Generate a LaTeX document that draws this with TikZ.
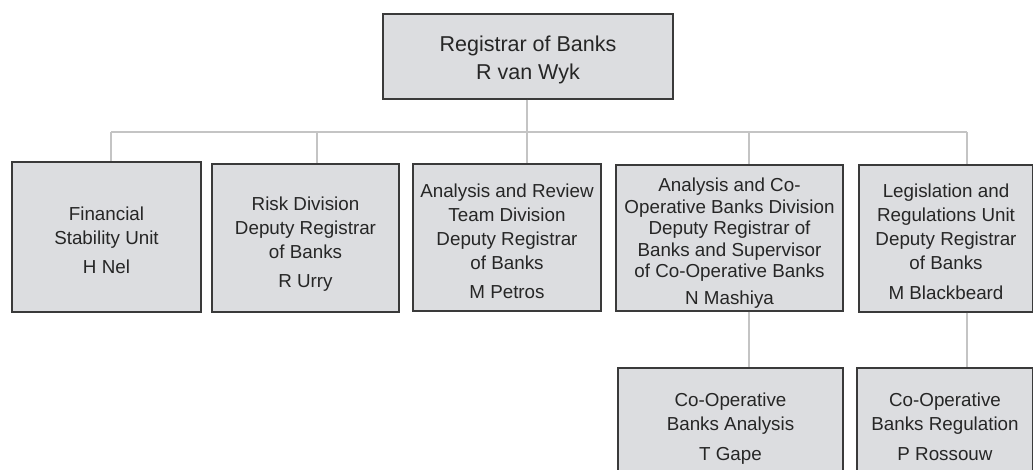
\documentclass[tikz,border=0pt]{standalone}
\usepackage{fontspec}
\setmainfont{Liberation Sans}
\definecolor{boxfill}{HTML}{DCDDE0}
\definecolor{boxline}{HTML}{3A3A3A}
\definecolor{conn}{HTML}{C4C4C4}
\definecolor{txt}{HTML}{262626}
\begin{document}
\begin{tikzpicture}[x=1pt,y=-1pt,
  unitbox/.style={draw=boxline, line width=1.2pt, fill=boxfill, inner sep=0pt},
  unittext/.style={inner sep=0pt, align=center, text=txt, font=\fontsize{18.8}{24}\selectfont},
  link/.style={draw=conn, line width=1.1pt}]
\useasboundingbox (0,0) rectangle (1033,470);
\clip (0,0) rectangle (1033,470);
% boxes
\node[unitbox, minimum width=290pt, minimum height=85pt] (top) at (528,56.5) {};
\node[unitbox, minimum width=189pt, minimum height=150pt] (b1) at (106.5,237) {};
\node[unitbox, minimum width=187pt, minimum height=148pt] (b2) at (305.5,238) {};
\node[unitbox, minimum width=188pt, minimum height=147pt] (b3) at (507,237.5) {};
\node[unitbox, minimum width=227pt, minimum height=146pt] (b4) at (729.5,238) {};
\node[unitbox, minimum width=174pt, minimum height=147pt] (b5) at (946,238.5) {};
\node[unitbox, minimum width=225pt, minimum height=116pt] (c1) at (730.5,426) {};
\node[unitbox, minimum width=176pt, minimum height=116pt] (c2) at (945,426) {};
% texts
\node[unittext, font=\fontsize{21.5}{28}\selectfont] (topt) at ([yshift=-3pt]top.center)
  {Registrar of Banks\\R van Wyk};
\node[unittext] (b1t) at ([yshift=-3pt]b1.center)
  {Financial\\Stability Unit\\[5pt]H Nel};
\node[unittext] (b2t) at ([yshift=-6pt]b2.center)
  {Risk Division\\Deputy Registrar\\of Banks\\[5pt]R Urry};
\node[unittext] (b3t) at ([yshift=-3.5pt]b3.center)
  {Analysis and Review\\Team Division\\Deputy Registrar\\of Banks\\[5pt]M Petros};
\node[unittext, font=\fontsize{18.8}{21.6}\selectfont] (b4t) at ([yshift=-5pt]b4.center)
  {Analysis and Co-\\Operative Banks Division\\Deputy Registrar of\\Banks and Supervisor\\of Co-Operative Banks\\[4.7pt]N Mashiya};
\node[unittext] (b5t) at ([yshift=-3pt]b5.center)
  {Legislation and\\Regulations Unit\\Deputy Registrar\\of Banks\\[6pt]M Blackbeard};
\node[unittext] (c1t) at ([yshift=-2.5pt]c1.center)
  {Co-Operative\\Banks Analysis\\[6pt]T Gape};
\node[unittext] (c2t) at ([yshift=-0.5pt]c2.center)
  {Co-Operative\\Banks Regulation\\[6pt]P Rossouw};
% connectors
\coordinate (j1) at (111,132);
\coordinate (j2) at (317,132);
\coordinate (j3) at (527,132);
\coordinate (j4) at (749,132);
\coordinate (j5) at (967,132);
\draw[link] (j1) -- (j5);
\draw[link] (top.south -| j3) -- (j3);
\draw[link] (j1) -- (j1 |- b1.north);
\draw[link] (j2) -- (j2 |- b2.north);
\draw[link] (j3) -- (j3 |- b3.north);
\draw[link] (j4) -- (j4 |- b4.north);
\draw[link] (j5) -- (j5 |- b5.north);
\draw[link] (b4.south -| j4) -- (c1.north -| j4);
\draw[link] (b5.south -| j5) -- (c2.north -| j5);
\end{tikzpicture}
\end{document}
